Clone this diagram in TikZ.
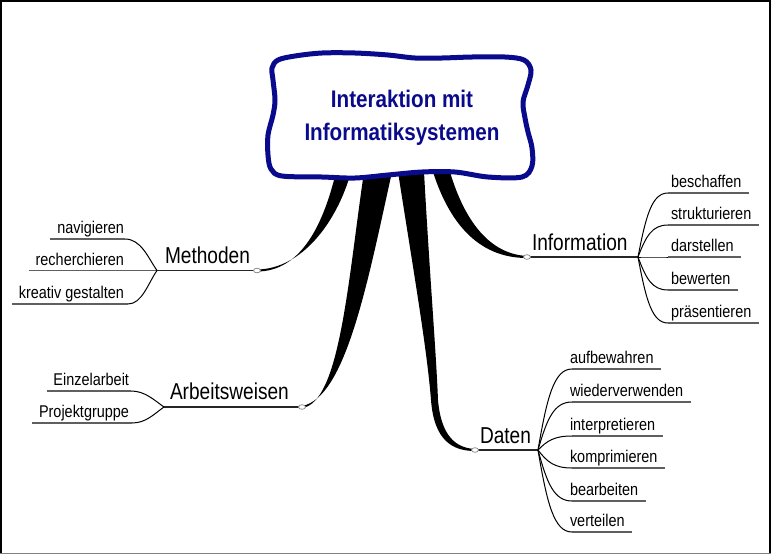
\documentclass[tikz,border=0pt]{standalone}
\usepackage{fontspec}
\setmainfont{Liberation Sans}
\newfontfamily\childfont{Liberation Sans}[FakeStretch=0.85]
\newfontfamily\mainfont{Liberation Sans}[FakeStretch=0.83]
\newfontfamily\titlefont{Liberation Sans}[FakeStretch=0.86]
\usetikzlibrary{calc}
\definecolor{navy}{RGB}{10,10,140}
\definecolor{ulgray}{RGB}{95,95,95}
\definecolor{knobgray}{RGB}{130,130,130}
\begin{document}
\begin{tikzpicture}[x=1pt,y=-1pt,
  every node/.style={inner sep=0pt, outer sep=0pt},
  child/.style={font=\childfont\fontsize{17}{19}\selectfont},
  mainlabel/.style={font=\mainfont\fontsize{23}{26}\selectfont},
  titlestyle/.style={font=\titlefont\bfseries\fontsize{24}{33}\selectfont, text=navy, align=center},
  uline/.style={draw=ulgray, line width=1.8pt},
  twig/.style={draw=black, line width=1pt},
  stem/.style={draw=black!85, line width=1.5pt},
  branch/.style={fill=black},
  cloud/.style={draw=navy, line width=5pt, fill=white, line join=round},
  knob/.style={draw=knobgray, fill=white, line width=0.7pt},
  frame/.style={draw=black, line width=2pt}]
\useasboundingbox (0,0) rectangle (771,555);
\fill[white] (0,0) rectangle (771,555);

% named coordinates: knobs and forks
\coordinate (K1) at (257,270.5);
\coordinate (F1) at (157,270.5);
\coordinate (K2) at (302,407);
\coordinate (F2) at (164,407);
\coordinate (K3) at (527,257);
\coordinate (F3) at (638,257);
\coordinate (K4) at (475,450);
\coordinate (F4) at (538,450);

% tapered branches
\fill[branch] ($(K1)+(0,1)$) .. controls (302,271.5) and (324,222) .. (336,172)
  -- (351,172) .. controls (337,222) and (302,269) .. ($(K1)+(0,-1)$) -- cycle;
\fill[branch] (364,172) .. controls (348,280) and (340,403) .. ($(K2)+(0,1)$)
  -- ($(K2)+(0,-1)$) .. controls (346,398) and (368,280) .. (392,172) -- cycle;
\fill[branch] (424,172) .. controls (430,280) and (436,350) .. (438,400)
  .. controls (441,435) and (455,448) .. ($(K4)+(0,-1)$)
  -- ($(K4)+(0,1)$) .. controls (452,451) and (434,440) .. (431,400)
  .. controls (427,350) and (415,280) .. (398,172) -- cycle;
\fill[branch] (433,172) .. controls (451,228) and (482,258) .. ($(K3)+(0,1)$)
  -- ($(K3)+(0,-1)$) .. controls (490,254) and (465,222) .. (450,172) -- cycle;

% central cloud
\draw[cloud] plot[smooth cycle, tension=0.55] coordinates {
  (278,60) (295,56) (322,53) (355,53) (388,55) (415,58) (442,58) (472,57)
  (505,57) (524,60) (531,70) (528,85) (523,102) (525,118) (528,132) (532,148)
  (532,166) (522,177) (488,177) (455,172) (422,172) (388,175) (355,178)
  (322,177) (282,176) (271,169) (268,155) (268,135) (273,115) (275,100)
  (273,80) (272,68)};
\node[titlestyle] (title) at (402,117.5) {Interaktion mit\\Informatiksystemen};

% main labels
\node[mainlabel, anchor=base west] (meth) at (165,263) {Methoden};
\node[mainlabel, anchor=base west] (arb) at (170,399) {Arbeitsweisen};
\node[mainlabel, anchor=base west] (info) at (532,250) {Information};
\node[mainlabel, anchor=base west] (dat) at (480,443) {Daten};
\draw[stem] (F1) -- (K1);
\draw[stem] (F2) -- (K2);
\draw[stem] (K3) -- (F3);
\draw[stem] (K4) -- (F4);

% Methoden children
\node[child, anchor=base east] (m1) at (124,233.5) {navigieren};
\node[child, anchor=base east] (m2) at (124,265) {recherchieren};
\node[child, anchor=base east] (m3) at (124,298.5) {kreativ gestalten};
\draw[uline] ($(m1.base west)+(-7,5.5)$) -- ($(m1.base east)+(1,5.5)$) coordinate (m1-e);
\draw[uline] ($(m2.base west)+(-7,5.5)$) -- (F1);
\draw[uline] ($(m3.base west)+(-7,5.5)$) -- ($(m3.base east)+(4,5.5)$) coordinate (m3-e);
\draw[twig] (m1-e) .. controls +(16,0) and +(-9,-13) .. (F1);
\draw[twig] (m3-e) .. controls +(14,0) and +(-9,13) .. (F1);

% Arbeitsweisen children
\node[child, anchor=base east] (a1) at (129,385.5) {Einzelarbeit};
\node[child, anchor=base east] (a2) at (129,417.5) {Projektgruppe};
\draw[uline] ($(a1.base west)+(-6,5.5)$) -- ($(a1.base east)+(2,5.5)$) coordinate (a1-e);
\draw[uline] ($(a2.base west)+(-7,5.5)$) -- ($(a2.base east)+(3,5.5)$) coordinate (a2-e);
\draw[twig] (a1-e) .. controls +(14,0) and +(-10,-7) .. (F2);
\draw[twig] (a2-e) .. controls +(14,0) and +(-10,7) .. (F2);

% Information children
\foreach \n/\t/\y in {i1/beschaffen/193, i2/strukturieren/225, i3/darstellen/257,
                      i4/bewerten/290, i5/präsentieren/323} {
  \node[child, anchor=base west] (\n) at (671,\y-5.5) {\t};
  \draw[uline] ($(\n.base west)+(-3,5.5)$) coordinate (\n-s) -- ($(\n.base east)+(7.5,5.5)$);
  \draw[twig] (F3) .. controls +(8,{0.65*(\y-257)}) and +(-16,0) .. (\n-s);
}

% Daten children
\foreach \n/\t/\y in {d1/aufbewahren/369, d2/wiederverwenden/402, d3/interpretieren/436,
                      d4/komprimieren/468, d5/bearbeiten/501, d6/verteilen/532} {
  \node[child, anchor=base west] (\n) at (570,\y-5.5) {\t};
  \draw[uline] ($(\n.base west)+(2,5.5)$) coordinate (\n-s) -- ($(\n.base east)+(7.5,5.5)$);
  \draw[twig] (F4) .. controls +(9,{0.65*(\y-450)}) and +(-18,0) .. (\n-s);
}

% knobs
\foreach \k in {K1,K2,K3,K4} {
  \draw[knob] (\k) ellipse [x radius=3.5, y radius=2.3];
}

% frame
\draw[frame] (1,554) -- (1,1) -- (769.5,1) -- (769.5,554);
\draw[draw=gray, line width=1.5pt] (0,553.5) -- (771,553.5);
\end{tikzpicture}
\end{document}
